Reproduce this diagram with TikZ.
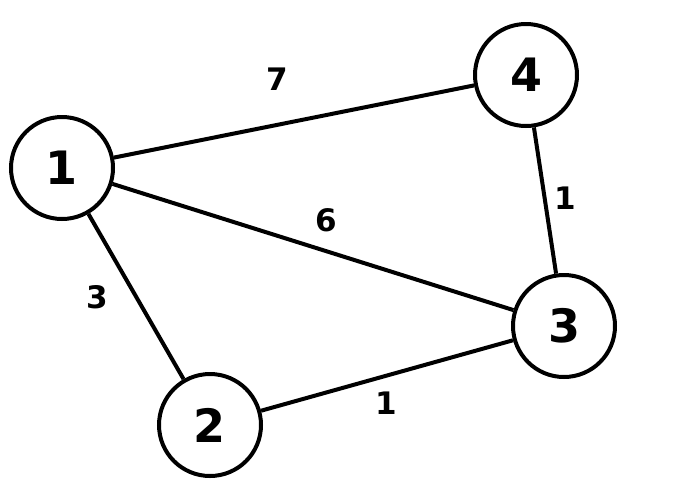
\documentclass[tikz,border=0pt]{standalone}
\usepackage{fontspec}
\setmainfont{DejaVu Sans}
\begin{document}
\begin{tikzpicture}[x=1pt,y=-1pt,line width=4pt,
  vertex/.style={draw,circle,minimum size=102pt,inner sep=0pt,
    font=\fontsize{46}{46}\selectfont\bfseries},
  weight/.style={inner sep=0pt,font=\fontsize{31}{31}\selectfont\bfseries}]
\useasboundingbox (0,0) rectangle (685,483);
% vertices
\node[vertex] (v1) at (62,168) {1};
\node[vertex] (v2) at (210,425) {2};
\node[vertex] (v3) at (564,326) {3};
\node[vertex] (v4) at (526,75) {4};
% edges
\draw (v1) -- (v4);
\draw (v1) -- (v3);
\draw (v1) -- (v2);
\draw (v2) -- (v3);
\draw (v4) -- (v3);
% weights
\node[weight] (w14) at (277,79) {7};
\node[weight] (w13) at (326,220) {6};
\node[weight] (w12) at (97,297) {3};
\node[weight] (w43) at (565,198) {1};
\node[weight] (w23) at (386,403) {1};
\end{tikzpicture}
\end{document}
